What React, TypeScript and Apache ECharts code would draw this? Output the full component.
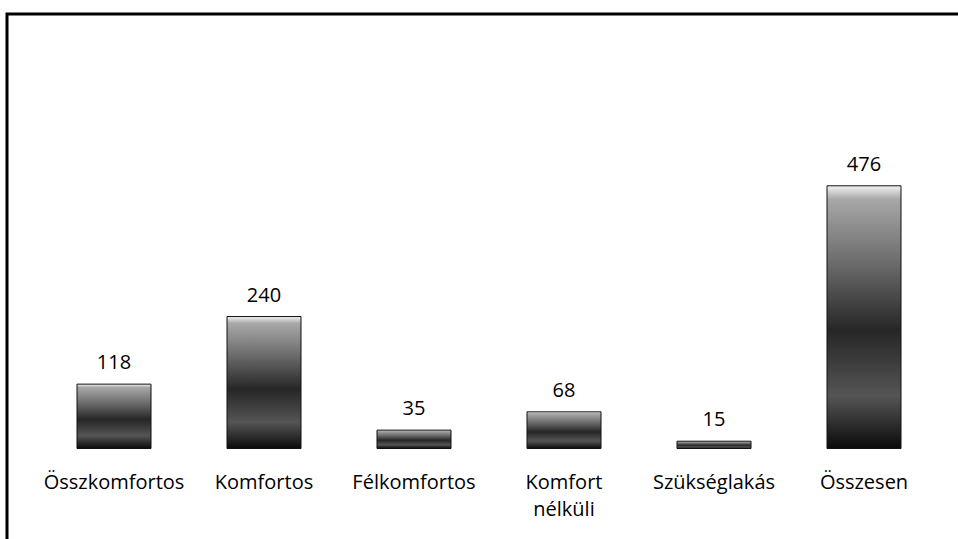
import React, { useEffect, useRef } from "react";
import * as echarts from "echarts";

const categories = ["Összkomfortos", "Komfortos", "Félkomfortos", "Komfort\nnélküli", "Szükséglakás", "Összesen"];
const values = [118, 240, 35, 68, 15, 476];

export default function App() {
  const ref = useRef<HTMLDivElement>(null);
  useEffect(() => {
    if (!ref.current) return;
    const chart = echarts.init(ref.current, null, { renderer: "svg" });
    const font = "'Open Sans', 'Noto Sans', sans-serif";
    const fill = new echarts.graphic.LinearGradient(0, 0, 0, 1, [
      { offset: 0, color: "#f4f4f4" },
      { offset: 0.05, color: "#a8a8a8" },
      { offset: 0.3, color: "#6a6a6a" },
      { offset: 0.55, color: "#262626" },
      { offset: 0.8, color: "#555555" },
      { offset: 1, color: "#0a0a0a" },
    ]);
    chart.setOption({
      animation: false,
      backgroundColor: "#ffffff",
      textStyle: { fontFamily: font },
      graphic: [
        {
          type: "rect",
          shape: { x: 7, y: 14, width: 1000, height: 600 },
          style: { fill: "none", stroke: "#000", lineWidth: 3 },
          silent: true,
        },
      ],
      grid: { left: 39, right: 19, top: 172, bottom: 90 },
      xAxis: {
        type: "category",
        data: categories,
        axisLine: { show: false },
        axisTick: { show: false },
        axisLabel: {
          color: "#000",
          fontSize: 20,
          lineHeight: 27,
          margin: 19,
          interval: 0,
          fontFamily: font,
        },
      },
      yAxis: {
        type: "value",
        min: 0,
        max: 500,
        show: false,
        splitLine: { show: false },
      },
      series: [
        {
          type: "bar",
          data: values,
          barWidth: 75,
          itemStyle: { color: fill, borderColor: "#111", borderWidth: 1 },
          label: {
            show: true,
            position: "top",
            distance: 12,
            color: "#000",
            fontSize: 20,
            fontFamily: font,
          },
        },
      ],
    });
    return () => chart.dispose();
  }, []);
  return (
    <div
      ref={ref}
      style={{ position: "fixed", left: 0, top: 0, width: 958, height: 539 }}
    />
  );
}
